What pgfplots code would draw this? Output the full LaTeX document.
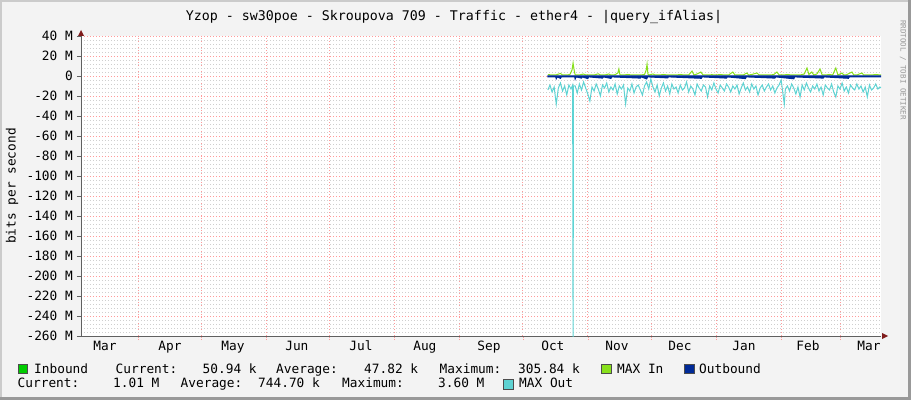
\documentclass[border=0pt]{standalone}
\usepackage{fontspec}
\setmainfont{DejaVu Sans Mono}
\usepackage{pgfplots}
\pgfplotsset{compat=1.18}

\definecolor{bgc}{HTML}{F3F3F3}
\definecolor{shadea}{HTML}{CBCBCB}
\definecolor{shadeb}{HTML}{999999}
\definecolor{mgrid}{HTML}{FF9A9A}
\definecolor{ngrid}{HTML}{CFCFCF}
\definecolor{axisc}{HTML}{606060}
\definecolor{arrowc}{HTML}{801C1C}
\definecolor{inc}{HTML}{00CC00}
\definecolor{maxinc}{HTML}{88E01C}
\definecolor{outc}{HTML}{002A97}
\definecolor{maxoutc}{HTML}{5FD3D3}

\newcommand\lf{\fontsize{12.8}{14}\selectfont}

\begin{document}
\begin{tikzpicture}[x=1pt,y=1pt]
\useasboundingbox (0,0) rectangle (911,400);
\fill[shadeb] (0,0) rectangle (911,400);
\fill[shadea] (0,3) rectangle (908,400);
\fill[bgc] (2,3) rectangle (908,398);

\node[anchor=base, inner sep=0pt, font=\fontsize{13.3}{16}\selectfont] at (454,379)
  {Yzop - sw30poe - Skroupova 709 - Traffic - ether4 - |query\_ifAlias|};

\begin{axis}[
    at={(81pt,64pt)}, anchor=south west,
    scale only axis, width=800pt, height=300pt,
    xmin=3.88, xmax=384.51, ymin=-260, ymax=40,
    axis background/.style={fill=white},
    axis x line*=bottom, axis y line*=left,
    axis line style={axisc, line width=0.8pt},
    % month boundaries carry the grid, labels sit mid-month
    xtick={31,61,92,122,153,184,214,245,275,306,337,365},
    xticklabels={},
    xmajorgrids,
    xtick style={mgrid, dash pattern=on 1pt off 1pt},
    extra x ticks={15.3,46.2,76.2,106.6,137.1,167.5,198.0,228.4,258.9,288.9,319.3,349.8,378.8},
    extra x tick labels={Mar,Apr,May,Jun,Jul,Aug,Sep,Oct,Nov,Dec,Jan,Feb,Mar},
    extra x tick style={xmajorgrids=false, major tick length=0pt},
    xticklabel style={anchor=base, inner sep=0pt, yshift=-14.7pt},
    ytick={-260,-240,...,40},
    yticklabels={-260 M,-240 M,-220 M,-200 M,-180 M,-160 M,-140 M,-120 M,-100 M,-80 M,-60 M,-40 M,-20 M,0,20 M,40 M},
    yticklabel style={anchor=east, inner sep=0pt, xshift=-4pt},
    ytick style={axisc},
    minor y tick num=4,
    ymajorgrids, yminorgrids,
    major grid style={mgrid, dash pattern=on 1pt off 2pt, line width=0.6pt},
    minor grid style={ngrid, dash pattern=on 1pt off 2pt, line width=0.6pt},
    major tick length=4pt, minor tick length=0pt, tick align=outside,
    ticklabel style={font=\lf},
]
% MAX Out (negative)
\addplot[maxoutc, line width=1pt] coordinates {
 (226,-14) (227,-9) (228,-16) (229,-11) (230,-28) (231,-12) (232,-7) (233,-15)
 (234,-10) (235,-19) (236,-9) (237,-13) (237.8,-9) (238,-270) (238.2,-10)
 (239,-10) (240,-17) (241,-8) (242,-14) (243,-6) (244,-12) (245,-18) (246,-25)
 (247,-11) (248,-15) (249,-8) (250,-13) (251,-20) (252,-9) (253,-12) (254,-7)
 (255,-16) (256,-11) (257,-14) (258,-8) (259,-18) (260,-10) (261,-13) (262,-9)
 (263,-28) (264,-12) (265,-15) (266,-8) (267,-17) (268,-11) (269,-9) (270,-14)
 (271,-19) (272,-10) (273,-6) (274,-13) (275,-3) (276,-11) (277,-16) (278,-9)
 (279,-20) (280,-12) (281,-7) (282,-15) (283,-10) (284,-18) (285,-8) (286,-13)
 (287,-11) (288,-17) (289,-9) (290,-14) (291,-12) (292,-6) (293,-16) (294,-10)
 (295,-13) (296,-19) (297,-8) (298,-12) (299,-15) (300,-9) (301,-11) (302,-21)
 (303,-10) (304,-14) (305,-7) (306,-13) (307,-17) (308,-9) (309,-12) (310,-15)
 (311,-8) (312,-11) (313,-16) (314,-10) (315,-13) (316,-9) (317,-18) (318,-12)
 (319,-7) (320,-14) (321,-11) (322,-16) (323,-8) (324,-13) (325,-10) (326,-19)
 (327,-12) (328,-9) (329,-15) (330,-11) (331,-8) (332,-14) (333,-10) (334,-17)
 (335,-12) (336,-9) (337,-4) (338.5,-28) (339,-13) (340,-10) (341,-15) (342,-8)
 (343,-12) (344,-18) (345,-11) (346,-21) (347,-9) (348,-14) (349,-7) (350,-12)
 (351,-16) (352,-10) (353,-13) (354,-8) (355,-15) (356,-11) (357,-19) (358,-9)
 (359,-12) (360,-14) (361,-8) (362,-16) (363,-21) (364,-10) (365,-13) (366,-7)
 (367,-15) (368,-11) (369,-17) (370,-9) (371,-12) (372,-14) (373,-8) (374,-13)
 (375,-10) (376,-16) (377,-11) (378,-21) (379,-9) (380,-14) (381,-12) (382,-8)
 (383,-13) (384,-11) (384.5,-12)
};
% Inbound
\addplot[fill=inc, draw=none] coordinates {(226,0.05) (384.5,0.05)} \closedcycle;
% MAX In
\addplot[maxinc, line width=1pt] coordinates {
 (226,1.5) (228,1) (230,1.2) (232,2.5) (233,1) (235,1) (236.5,1.5) (237.5,6)
 (238,13) (238.5,6) (239,1) (241,1) (243,2) (244,1) (246,1.2) (248,1) (250,2.2)
 (251,1) (253,1) (255,2) (256,1) (258,1.3) (259.3,3) (259.8,7) (260.3,1) (262,1)
 (264,1.5) (266,1) (268,1.2) (270,1) (272,1.5) (272.8,6) (273.2,12) (273.6,2)
 (274,1) (276,2) (277,1) (279,1) (281,1.5) (283,1) (285,1.2) (287,1) (289,1.5)
 (291,1) (293,1) (294.6,5) (295.5,1) (297,2) (298.8,4) (299.8,1) (302,1)
 (304,1.3) (306,1) (308,1.5) (310,1) (312,1) (314,4) (315,1) (317,1.2) (319,1)
 (320.7,3) (321.5,1) (323,1.5) (325.5,3) (326.5,1) (328,1) (330,1.2) (332,1)
 (333.5,1.5) (335,4) (336,1) (338,1) (340,1.5) (342,1) (344,1.2) (346,1) (348,2)
 (349.3,8) (350.2,1.5) (351.6,4) (352.5,1) (354,2) (355.5,7) (356.5,1) (358,1)
 (360,1.5) (361.5,1) (363,8) (364,1) (365.9,3) (366.8,1) (368,1.2) (370.7,4)
 (371.5,1) (373,1) (375.4,3) (376.3,1) (378,1.2) (380,1) (382,1.5) (384.5,1)
};
% Outbound (negative)
\addplot[outc, fill=outc, line width=1.2pt] coordinates {
 (226,-0.8) (229.8,-0.8) (230,-2.5) (230.4,-0.8) (232,-2.2) (232.4,-0.8)
 (238.8,-0.8) (239,-2.8) (239.4,-0.8) (242,-2) (242.4,-0.8) (245,-2.5) (245.4,-0.8)
 (252,-2) (252.4,-0.8) (256,-2.3) (256.4,-0.8) (270,-2) (270.4,-0.8) (273,-2.8)
 (273.5,-0.8) (283,-1.8) (283.4,-0.8) (299,-2.2) (299.4,-0.8) (311,-2) (311.4,-0.8)
 (320,-2.5) (320.4,-0.8) (334,-2) (334.4,-0.8) (343,-2.7) (343.4,-0.8) (357,-2)
 (357.4,-0.8) (369,-2.2) (369.4,-0.8) (384.5,-0.8)
} \closedcycle;
\end{axis}

% axis arrows
\fill[arrowc] (888,64) -- (882,67) -- (882,61) -- cycle;
\fill[arrowc] (81,370) -- (78,364) -- (84,364) -- cycle;

\node[rotate=90, inner sep=0pt, font=\lf] at (12,214) {bits per second};
\node[rotate=-90, inner sep=0pt, text=black!40, font=\fontsize{7.5}{9}\selectfont] at (903,330) {RRDTOOL / TOBI OETIKER};

% legend
\filldraw[fill=inc, draw=black!70, line width=0.5pt] (18,26.5) rectangle (27.5,36);
\filldraw[fill=maxinc, draw=black!70, line width=0.5pt] (601.5,26.5) rectangle (611,36);
\filldraw[fill=outc, draw=black!70, line width=0.5pt] (684.5,26.5) rectangle (694,36);
\filldraw[fill=maxoutc, draw=black!70, line width=0.5pt] (503.5,11) rectangle (513,20.5);
\begin{scope}[every node/.style={anchor=base west, inner sep=0pt, font=\lf}]
\node at (34,27) {Inbound};
\node at (115.5,27) {Current:};
\node at (202.5,27) {50.94 k};
\node at (276,27) {Average:};
\node at (364,27) {47.82 k};
\node at (439.5,27) {Maximum:};
\node at (518,27) {305.84 k};
\node at (617,27) {MAX In};
\node at (699,27) {Outbound};
\node at (17.5,12.5) {Current:};
\node at (113,12.5) {1.01 M};
\node at (180.5,12.5) {Average:};
\node at (258,12.5) {744.70 k};
\node at (342,12.5) {Maximum:};
\node at (438,12.5) {3.60 M};
\node at (519,12.5) {MAX Out};
\end{scope}
\end{tikzpicture}
\end{document}
